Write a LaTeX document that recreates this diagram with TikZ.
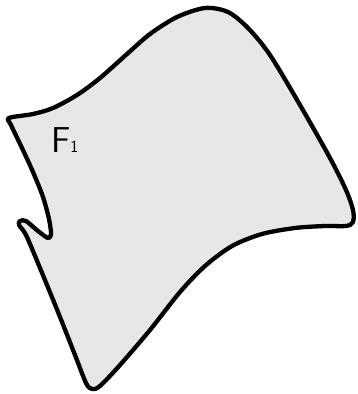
\documentclass[tikz,border=0pt]{standalone}
\usepackage{tikz}
\definecolor{fillgray}{RGB}{230,231,233}
\tikzset{
  patch/.style={draw=black, fill=fillgray, line width=4.3pt, line join=round},
  lbl/.style={inner sep=0pt, anchor=base west, font=\sffamily}
}
\begin{document}
\begin{tikzpicture}[x=1pt,y=-1pt]
\useasboundingbox (0,0) rectangle (358,394);
\draw[patch] plot[smooth cycle, tension=0.5] coordinates {
(9,118) (33,114) (53,108) (77,95) (100,78) (127,54) (150,34) (177,17)
(205,8) (228,12) (248,28) (270,55) (300,105) (330,158) (346,190)
(353,210) (353,222) (346,226) (325,226) (295,228) (262,234) (232,246)
(205,266) (180,292) (150,330) (120,365) (100,386) (92,389) (86,383)
(75,355) (58,312) (40,268) (26,235) (19,225) (20,221) (26,221) (38,231)
(48,238) (51,234) (49,219) (43,197) (33,172) (22,148) (11,125)};
\node[lbl] (F) at (51,152) {\fontsize{36}{36}\selectfont F\fontsize{17}{17}\selectfont 1};
\end{tikzpicture}
\end{document}
